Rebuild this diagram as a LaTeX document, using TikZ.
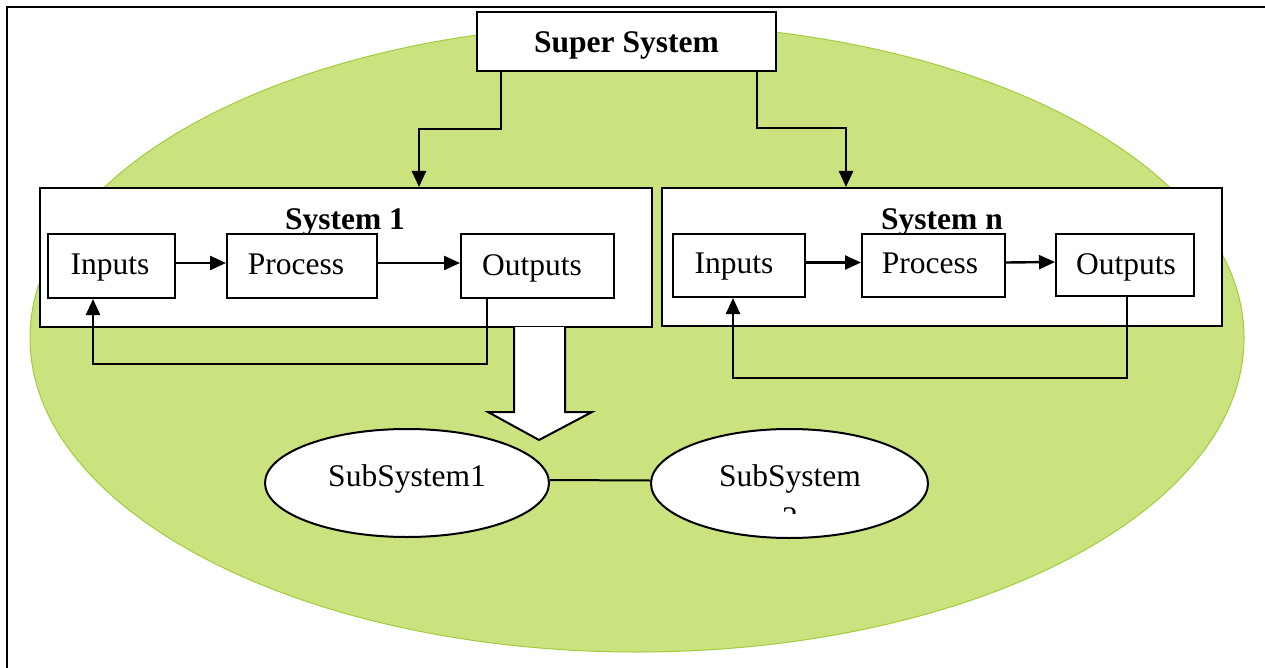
\documentclass[tikz,border=0pt]{standalone}
\usepackage{fontspec}
\setmainfont{Liberation Serif}
\usetikzlibrary{arrows.meta,shapes.geometric}
\definecolor{leaf}{RGB}{203,227,126}
\definecolor{leafedge}{RGB}{160,205,60}
\tikzset{
  box/.style={draw=black,line width=2pt,fill=white,rectangle,inner sep=0pt},
  oval/.style={draw=black,line width=2pt,fill=white,ellipse,inner sep=0pt},
  txt/.style={font=\fontsize{31.5}{36}\selectfont,inner sep=0pt},
  btxt/.style={font=\fontsize{31.5}{36}\selectfont\bfseries,inner sep=0pt},
  arr/.style={line width=2.4pt,-{Triangle[length=16pt,width=14pt]}},
  link/.style={line width=2pt},
}
\begin{document}
\begin{tikzpicture}[x=1pt,y=-1pt]
\useasboundingbox (0,0) rectangle (1265,668);
% frame
\draw[line width=2pt] (1265,7) -- (7,7) -- (7,668);
% super system ellipse
\fill[leaf,draw=leafedge,line width=1pt] (637,338) ellipse [x radius=607,y radius=314];
% super system box
\node[box,minimum width=299pt,minimum height=59pt] (super) at (626.5,41.5) {};
\node[btxt] (supertxt) at (626.5,45) {Super System};
% system 1
\node[box,minimum width=612pt,minimum height=139pt] (sys1) at (346,257.5) {};
\node[btxt] (sys1t) at (345,222) {System 1};
\node[box,minimum width=127pt,minimum height=64pt] (in1) at (111.5,266) {};
\node[txt] (in1t) at (110,268) {Inputs};
\node[box,minimum width=150pt,minimum height=64pt] (pr1) at (302,266) {};
\node[txt] (pr1t) at (296,264) {Process};
\node[box,minimum width=153pt,minimum height=64pt] (out1) at (537.5,266) {};
\node[txt] (out1t) at (532,268) {Outputs};
% system n
\node[box,minimum width=560pt,minimum height=138pt] (sysn) at (942,257) {};
\node[btxt] (sysnt) at (942,222) {System n};
\node[box,minimum width=132pt,minimum height=63pt] (inn) at (739,265.5) {};
\node[txt] (innt) at (734,267) {Inputs};
\node[box,minimum width=143pt,minimum height=63pt] (prn) at (933.5,265.5) {};
\node[txt] (prnt) at (930,263) {Process};
\node[box,minimum width=138pt,minimum height=62pt] (outn) at (1125,265) {};
\node[txt] (outnt) at (1126,267) {Outputs};
% connectors from super system
\coordinate (c1a) at (501,129);
\coordinate (c1b) at (419,129);
\draw[arr] (super.south -| c1a) -- (c1a) -- (c1b) -- (sys1.north -| c1b);
\coordinate (c2a) at (757,128);
\coordinate (c2b) at (846,128);
\draw[arr] (super.south -| c2a) -- (c2a) -- (c2b) -- (sysn.north -| c2b);
% inner arrows
\draw[arr] ([yshift=3pt]in1.east) -- ([yshift=3pt]pr1.west);
\draw[arr] ([yshift=3pt]pr1.east) -- ([yshift=3pt]out1.west);
\draw[arr] ([yshift=3pt]inn.east) -- ([yshift=3pt]prn.west);
\draw[arr] ([yshift=3pt]prn.east) -- ([yshift=3pt]outn.west);
% feedback loops
\coordinate (f1a) at (487,364);
\coordinate (f1b) at (93,364);
\draw[arr] (out1.south -| f1a) -- (f1a) -- (f1b) -- (in1.south -| f1b);
\coordinate (f2a) at (1127,378);
\coordinate (f2b) at (733,378);
\draw[arr] (outn.south -| f2a) -- (f2a) -- (f2b) -- (inn.south -| f2b);
% block arrow
\draw[line width=2pt,fill=white,line join=miter] (514,327) -- (514,412) -- (488,412) -- (539,440) -- (592,412) -- (565,412) -- (565,327);
% subsystems
\node[oval,minimum width=284pt,minimum height=108pt] (sub1) at (407,483) {};
\node[txt] (sub1t) at (407,479) {SubSystem1};
\node[oval,minimum width=277pt,minimum height=109pt] (sub2) at (789.5,483.5) {};
\node[txt] (sub2t) at (790,479) {SubSystem};
\begin{scope}
\clip (700,490) rectangle (880,513);
\node[txt] (sub2n) at (790,518) {2};
\end{scope}
\draw[link] ([yshift=3pt]sub1.east) -- ([yshift=3pt]sub2.west);
\end{tikzpicture}
\end{document}
